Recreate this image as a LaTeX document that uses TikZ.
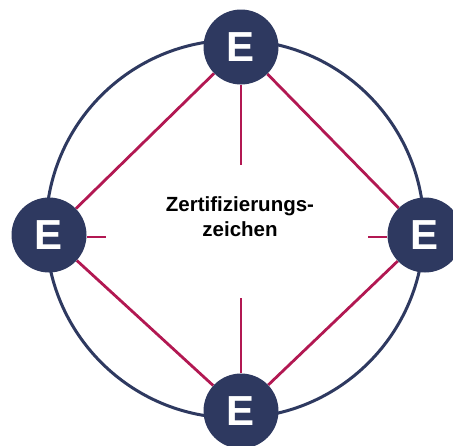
\documentclass[tikz,border=0pt]{standalone}
\usepackage{fontspec}
\setmainfont{Liberation Sans}
\usetikzlibrary{backgrounds}
\definecolor{navy}{RGB}{46,57,96}
\definecolor{mag}{RGB}{178,24,82}
\tikzset{
  enode/.style={circle, fill=navy, draw=none, minimum size=75pt, inner sep=0pt,
    text=white, font=\fontsize{42}{42}\selectfont\bfseries},
  ring/.style={draw=navy, line width=3pt},
  link/.style={draw=mag, line width=2.8pt},
}
\begin{document}
\begin{tikzpicture}[x=1pt,y=-1pt]
\useasboundingbox (0,0) rectangle (453,445);
\clip (0,0) rectangle (453,445);
\node[enode] (t) at (241,47) {E};
\node[enode] (l) at (49,235) {E};
\node[enode] (r) at (425,235) {E};
\node[enode] (b) at (241,411) {E};
\coordinate (ts) at (241,165);
\coordinate (bs) at (241,298);
\coordinate (ls) at (106,237);
\coordinate (rs) at (368,237);
\node[align=center, font=\fontsize{20.5}{25}\selectfont\bfseries] (c) at (240,217) {Zertifizierungs-\\zeichen};
\begin{scope}[on background layer]
  \draw[ring] (235,229) circle[radius=189];
  \draw[link] (t) -- (l);
  \draw[link] (t) -- (r);
  \draw[link] (l) -- (b);
  \draw[link] (r) -- (b);
  \draw[link] (t) -- (ts);
  \draw[link] (b) -- (bs);
  \draw[link] (l.east |- ls) -- (ls);
  \draw[link] (r.west |- rs) -- (rs);
\end{scope}
\end{tikzpicture}
\end{document}
